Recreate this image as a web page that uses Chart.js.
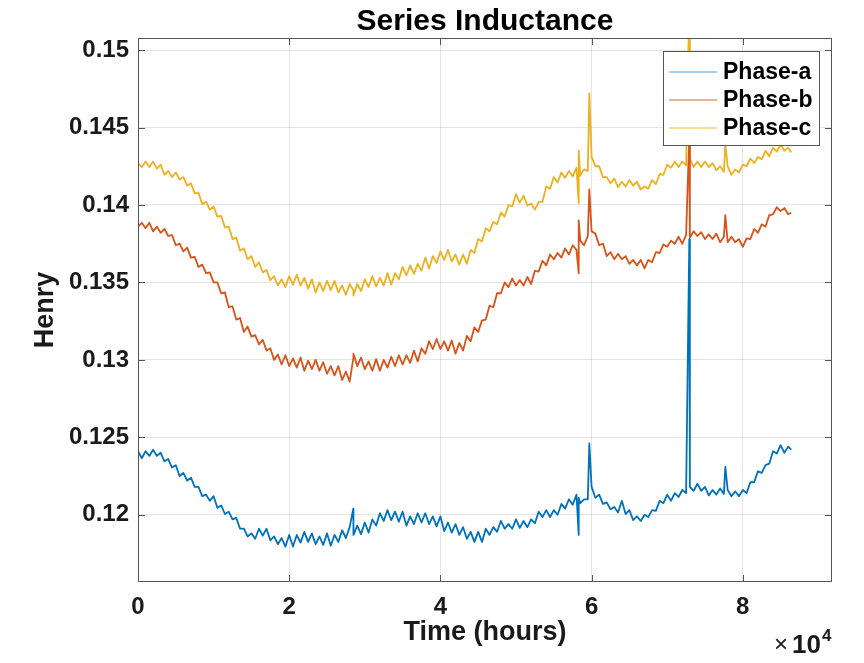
<!DOCTYPE html>
<html><head><meta charset="utf-8">
<script src="https://cdn.jsdelivr.net/npm/chart.js@4.4.0/dist/chart.umd.min.js"></script>
<style>html,body{margin:0;padding:0;background:#fff}#wrap{width:864px;height:663px}</style>
</head><body><div id="wrap"><canvas id="c" width="864" height="663"></canvas></div>
<script>
// x values (as plotted, axis shown in units of 1e4)
const time = [
  0,500,1000,1500,2000,2500,3000,3500,4000,4500,
  5000,5500,6000,6500,7000,7500,8000,8500,9000,9500,
  10000,10500,11000,11500,12000,12500,13000,13500,14000,14500,
  15000,15500,16000,16500,17000,17500,18000,18500,19000,19500,
  20000,20500,21000,21500,22000,22500,23000,23500,24000,24500,
  25000,25500,26000,26500,27000,27500,28000,
  28480,
  28500,29000,29500,
  30000,30500,31000,31500,32000,32500,33000,33500,34000,34500,
  35000,35500,36000,36500,37000,37500,38000,38500,39000,39500,
  40000,40500,41000,41500,42000,42500,43000,43500,44000,44500,
  45000,45500,46000,46500,47000,47500,48000,48500,49000,49500,
  50000,50500,51000,51500,52000,52500,53000,53500,54000,54500,
  55000,55500,56000,56500,57000,57500,58000,
  58296,58296,
  58500,59000,59500,
  59700,
  60000,60500,61000,61500,62000,62500,63000,63500,64000,64500,
  65000,65500,66000,66500,67000,67500,68000,68500,69000,69500,
  70000,70500,71000,71500,72000,72500,
  72926,
  73000,73500,74000,74500,75000,75500,76000,76500,77000,77500,
  77690,
  78000,78500,79000,79500,80000,80500,81000,81500,82000,82500,
  83000,83500,84000,84500,85000,85500,86000,
  86400
];
const phaseA = [
  0.1241,0.12365,0.1241,0.1238,0.1242,0.1238,0.1240,0.12345,0.1236,0.12305,
  0.1232,0.1225,0.1227,0.1222,0.1224,0.1218,0.1218,0.1212,0.1213,0.1209,
  0.1212,0.12045,0.1206,0.12005,0.1202,0.1197,0.1198,0.1191,0.1191,0.1186,
  0.1188,0.11845,0.1191,0.11865,0.1191,0.11835,0.1186,0.1181,0.1185,0.11795,
  0.1187,0.11795,0.1187,0.1182,0.1189,0.11825,0.1188,0.1181,0.1186,0.11805,
  0.1188,0.1180,0.1187,0.11825,0.1190,0.1185,0.1192,
  0.1204,
  0.1187,0.1193,0.11875,
  0.1195,0.11885,0.1197,0.1193,0.1201,0.1196,0.1203,0.11965,0.1202,0.11955,
  0.1202,0.1193,0.1199,0.1194,0.1201,0.1195,0.1201,0.1194,0.1199,0.11925,
  0.1199,0.11895,0.1195,0.11885,0.1194,0.1187,0.1192,0.11845,0.1189,0.11825,
  0.1189,0.11825,0.1191,0.1187,0.1192,0.1189,0.1196,0.1191,0.1194,0.1191,
  0.1197,0.11915,0.1196,0.1192,0.1197,0.11945,0.1202,0.11985,0.1203,0.11985,
  0.1203,0.1200,0.1207,0.1204,0.1210,0.12065,0.1213,
  0.1187,0.1211,
  0.12075,0.1210,0.1210,
  0.1246,
  0.1218,0.1211,0.1213,0.1207,0.1208,0.12035,0.1205,0.12015,0.1209,0.12005,
  0.1203,0.11965,0.1199,0.1196,0.1200,0.11985,0.1203,0.12025,0.1209,0.12075,
  0.1213,0.1209,0.1214,0.12115,0.1216,0.1214,
  0.1378,
  0.1218,0.12155,0.1220,0.12155,0.1218,0.12125,0.1216,0.1213,0.1217,0.12135,
  0.1231,
  0.1216,0.1212,0.1215,0.1212,0.1216,0.1214,0.1221,0.1221,0.1228,0.1227,
  0.1232,0.1233,0.1241,0.12395,0.1245,0.1240,0.1244,
  0.1242
];
const phaseB = [
  0.1386,0.13885,0.1385,0.13885,0.1383,0.1386,0.1382,0.13845,0.1380,0.13805,
  0.1374,0.1375,0.1370,0.13725,0.1366,0.13665,0.1360,0.13615,0.1356,0.13565,
  0.1350,0.1350,0.1343,0.13435,0.1334,0.13345,0.1326,0.1327,0.1318,0.13215,
  0.1315,0.1316,0.1310,0.1313,0.1306,0.13075,0.1300,0.13035,0.1297,0.1303,
  0.1296,0.1301,0.1295,0.13015,0.1293,0.12995,0.1294,0.1300,0.1293,0.12985,
  0.1291,0.1296,0.1290,0.1296,0.1287,0.12925,0.1286,
  0.1301,
  0.1304,0.1296,0.13015,
  0.1294,0.1299,0.1293,0.13005,0.1293,0.1300,0.1295,0.1302,0.1296,0.1303,
  0.1297,0.1303,0.1298,0.1306,0.1299,0.13075,0.1304,0.1312,0.1307,0.13135,
  0.1307,0.1312,0.1306,0.13125,0.1304,0.1311,0.1306,0.13155,0.1312,0.1321,
  0.1318,0.13255,0.1326,0.1335,0.1334,0.1343,0.1343,0.1350,0.1347,0.13525,
  0.1348,0.13515,0.1348,0.13535,0.1349,0.13575,0.1357,0.1364,0.1361,0.1368,
  0.1365,0.1369,0.1366,0.1372,0.1368,0.1374,0.1371,
  0.1356,0.1390,
  0.1377,0.1374,0.1380,
  0.1410,
  0.1383,0.13815,0.1374,0.1375,0.1367,0.13695,0.1365,0.13685,0.1365,0.1367,
  0.1362,0.13645,0.1361,0.13645,0.1359,0.13645,0.1363,0.13695,0.1369,0.13745,
  0.1373,0.1377,0.1375,0.13795,0.1375,0.13805,
  0.1445,
  0.1379,0.1383,0.1380,0.13825,0.1378,0.1381,0.1378,0.13815,0.1376,0.13795,
  0.13935,
  0.1376,0.13795,0.1376,0.1378,0.1373,0.13785,0.1378,0.13845,0.1382,0.13875,
  0.1386,0.13935,0.1394,0.13985,0.1396,0.1398,0.1394,
  0.1395
];
const phaseC = [
  0.1427,0.14245,0.1428,0.14245,0.1428,0.14235,0.1426,0.14195,0.1422,0.1418,
  0.1421,0.14165,0.1418,0.14125,0.1414,0.14075,0.1408,0.14005,0.1402,0.1397,
  0.1399,0.13925,0.1393,0.13855,0.1386,0.1378,0.1379,0.13705,0.1372,0.1365,
  0.1367,0.1360,0.1363,0.13565,0.1358,0.13515,0.1354,0.1348,0.1352,0.1347,
  0.1354,0.13485,0.1355,0.1348,0.1353,0.1346,0.1352,0.13435,0.1350,0.13445,
  0.1351,0.1345,0.1351,0.13435,0.1348,0.1342,0.1349,
  0.1345,
  0.13415,0.1349,0.13445,
  0.1352,0.1347,0.1354,0.13475,0.1353,0.1348,0.1356,0.13485,0.1356,0.1352,
  0.1360,0.13545,0.1361,0.13555,0.1362,0.13575,0.1366,0.1359,0.1367,0.13625,
  0.1370,0.13645,0.1371,0.13635,0.1368,0.13615,0.1368,0.1362,0.1371,0.1369,
  0.1378,0.13765,0.1385,0.1383,0.1389,0.13875,0.1395,0.13925,0.1400,0.1399,
  0.1407,0.14015,0.1406,0.13995,0.1401,0.1397,0.1402,0.1402,0.1412,0.14105,
  0.1418,0.14145,0.1421,0.14175,0.1422,0.14185,0.1424,
  0.1401,0.1435,
  0.1419,0.1423,0.1422,
  0.1472,
  0.1431,0.1425,0.1425,0.1418,0.1418,0.1414,0.1417,0.14115,0.1415,0.1412,
  0.1416,0.14125,0.1415,0.1410,0.1412,0.14105,0.1416,0.14135,0.1420,0.14195,
  0.1426,0.1424,0.1428,0.14245,0.1428,0.14255,
  0.1530,
  0.1430,0.14245,0.1428,0.14245,0.1428,0.14245,0.1427,0.14225,0.1425,0.14215,
  0.1439,
  0.1425,0.14195,0.1423,0.1421,0.1426,0.1425,0.1430,0.1427,0.1431,0.14295,
  0.1435,0.14315,0.1437,0.14345,0.1439,0.1435,0.1437,
  0.1434
];
const seriesNames = ['Phase-a','Phase-b','Phase-c'];
const seriesColors = ['#0072BD','#D95319','#EDB120'];
const legendColors = ['rgba(0,114,189,0.45)','rgba(217,83,25,0.6)','rgba(237,177,32,0.6)'];
const xTicks = [0,20000,40000,60000,80000];
const yTicks = [0.12,0.125,0.13,0.135,0.14,0.145,0.15];
const xRange = [0,91800];
const yRange = [0.11566,0.15078];

const FONT = "'Liberation Sans', Arial, sans-serif";
const toPts = ys => time.map((t,i)=>({x:t,y:ys[i]}));

const framePlugin = {
  id:'frame',
  afterDatasetsDraw(chart){
    const {ctx, chartArea:a, scales:{x,y}} = chart;
    ctx.save();
    ctx.strokeStyle = '#555'; ctx.lineWidth = 1;
    ctx.strokeRect(a.left+0.5, a.top+0.5, a.right-a.left-1, a.bottom-a.top-1);
    ctx.beginPath();
    xTicks.forEach(v=>{const p=Math.round(x.getPixelForValue(v))+0.5;
      ctx.moveTo(p,a.bottom); ctx.lineTo(p,a.bottom-7); ctx.moveTo(p,a.top); ctx.lineTo(p,a.top+7);});
    yTicks.forEach(v=>{const p=Math.round(y.getPixelForValue(v))+0.5;
      ctx.moveTo(a.left,p); ctx.lineTo(a.left+7,p); ctx.moveTo(a.right,p); ctx.lineTo(a.right-7,p);});
    ctx.stroke();
    // legend
    const lx=663, ly=51, lw=157, lh=95;
    ctx.fillStyle='#fff'; ctx.fillRect(lx,ly,lw,lh);
    ctx.strokeStyle='#555'; ctx.strokeRect(lx+0.5,ly+0.5,lw-1,lh-1);
    ctx.font = "bold 23px "+FONT; ctx.textBaseline='middle'; ctx.textAlign='left';
    chart.data.datasets.forEach((ds,i)=>{
      const yy = ly + 21 + i*28;
      ctx.strokeStyle = legendColors[i]; ctx.lineWidth=1.5;
      ctx.beginPath(); ctx.moveTo(669,yy); ctx.lineTo(717,yy); ctx.stroke();
      ctx.fillStyle='#000'; ctx.fillText(ds.label, 723, yy+1);
    });
    // exponent label
    ctx.fillStyle='#1a1a1a'; ctx.textBaseline='alphabetic';
    ctx.font = "24px "+FONT; ctx.fillText('\u00d7', 774, 652);
    ctx.font = "bold 26px "+FONT; ctx.fillText('10', 792, 653);
    ctx.font = "bold 17px "+FONT; ctx.fillText('4', 822, 641);
    ctx.restore();
  }
};

new Chart(document.getElementById('c'), {
  type:'line',
  data:{datasets:[
    {label:seriesNames[0], data:toPts(phaseA), borderColor:seriesColors[0]},
    {label:seriesNames[1], data:toPts(phaseB), borderColor:seriesColors[1]},
    {label:seriesNames[2], data:toPts(phaseC), borderColor:seriesColors[2]}
  ]},
  options:{
    responsive:false, animation:false, devicePixelRatio:1,
    layout:{padding:{left:0,right:32,top:0,bottom:0}},
    elements:{line:{borderWidth:1.8, tension:0, fill:false, borderJoinStyle:'round'}, point:{radius:0}},
    plugins:{
      legend:{display:false}, tooltip:{enabled:false},
      title:{display:true, text:'Series Inductance', fullSize:false, color:'#000',
        font:{family:FONT, size:30, weight:'bold', lineHeight:1}, padding:{top:7,bottom:1}}
    },
    scales:{
      x:{type:'linear', min:xRange[0], max:xRange[1],
        afterBuildTicks:s=>{s.ticks = xTicks.map(v=>({value:v}));},
        afterFit:s=>{s.height=81;},
        ticks:{padding:11, color:'#1a1a1a', font:{family:FONT,size:24,weight:'bold'}, maxRotation:0,
          callback:v=>String(v/10000)},
        grid:{color:'rgba(0,0,0,0.1)', drawTicks:false}, border:{display:false},
        title:{display:true, text:'Time (hours)', color:'#1a1a1a',
          font:{family:FONT,size:27,weight:'bold'}, padding:{top:0,bottom:14}}
      },
      y:{type:'linear', min:yRange[0], max:yRange[1],
        afterBuildTicks:s=>{s.ticks = yTicks.map(v=>({value:v}));},
        afterFit:s=>{s.width=138;},
        ticks:{padding:9, color:'#1a1a1a', font:{family:FONT,size:24,weight:'bold'},
          callback:v=>String(+Number(v).toFixed(3))},
        grid:{color:'rgba(0,0,0,0.1)', drawTicks:false}, border:{display:false},
        title:{display:true, text:'Henry', color:'#1a1a1a',
          font:{family:FONT,size:27,weight:'bold'}, padding:{top:29,bottom:0}}
      }
    }
  },
  plugins:[framePlugin]
});
</script></body></html>
